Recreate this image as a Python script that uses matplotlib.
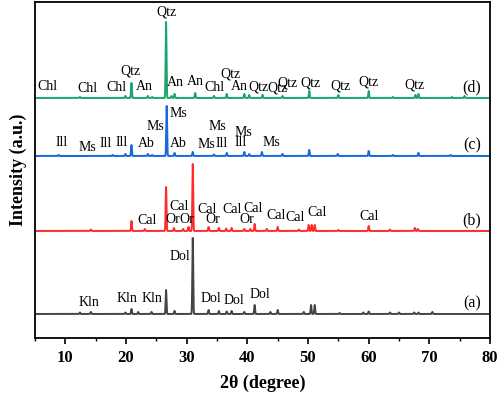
import numpy as np
import matplotlib.pyplot as plt

plt.rcParams['font.family'] = ['Liberation Serif', 'DejaVu Serif']

# baselines of the four offset patterns (arbitrary intensity units)
base_a, base_b, base_c, base_d = 24, 107, 182, 240

# peak positions (2theta) and heights for each pattern
pk_a = [12.4, 14.2, 19.9, 20.9, 22.0, 24.2, 26.6, 28.0, 31.0, 33.6, 35.3, 36.6, 37.4, 39.5, 41.2,
        43.8, 45.0, 49.3, 50.5, 51.1, 55.2, 59.1, 60.0, 63.5, 65.0, 67.5, 68.2, 70.5]
h_a = [1.5, 2, 1.5, 5, 2, 2, 24, 3, 76, 4, 3, 2.5, 3, 2, 9,
       2, 4, 2, 9, 9, 1, 1.5, 2.5, 1.5, 1.5, 1.5, 1.5, 2]

pk_b = [14.2, 20.9, 23.1, 26.6, 27.9, 29.4, 30.3, 31.0, 33.6, 35.3, 36.5, 37.4, 39.5, 40.5, 41.2,
        43.2, 45.0, 48.5, 50.1, 50.6, 51.1, 55.0, 60.0, 63.5, 67.6, 68.1]
h_b = [1.5, 10, 2, 44, 3, 2, 4, 67, 4, 3, 2.5, 3, 2, 2, 7,
       2, 4, 1.5, 6, 6, 6, 1, 5, 1.5, 3, 2]

pk_c = [8.9, 17.8, 19.9, 20.9, 23.6, 24.3, 26.7, 28.0, 31.0, 34.5, 36.6, 39.5, 40.3, 42.4,
        45.8, 50.2, 54.9, 60.0, 64.0, 68.2, 73.5]
h_c = [1, 1, 2, 11, 2, 1, 50, 3, 4, 1.5, 3, 4, 2, 4,
       2, 6, 2, 5, 1, 3, 1]

pk_d = [12.4, 19.9, 20.9, 23.6, 24.3, 26.6, 27.5, 28.0, 31.4, 34.5, 36.6, 39.5, 40.3, 42.5,
        45.8, 50.2, 55.0, 60.0, 64.0, 67.7, 68.2, 73.7, 75.8]
h_d = [1, 2, 15, 2, 1, 76, 2, 4, 5, 2, 4, 4, 3, 3,
       2, 7, 3, 7, 1, 3, 4, 1, 2]

# phase labels: (2theta, height, text)
lab_d = [(7.1, 251, 'Chl'), (13.6, 249, 'Chl'), (18.5, 250, 'Chl'), (20.8, 267, 'Qtz'),
         (23.0, 251, 'An'), (26.6, 326, 'Qtz'), (28.2, 255, 'An'), (31.4, 256, 'An'),
         (34.5, 250, 'Chl'), (37.3, 264, 'Qtz'), (38.7, 251, 'An'), (41.8, 251, 'Qtz'),
         (45.0, 250, 'Qtz'), (46.6, 255, 'Qtz'), (50.4, 255, 'Qtz'), (55.4, 252, 'Qtz'),
         (59.9, 256, 'Qtz'), (67.6, 253, 'Qtz')]
lab_c = [(9.4, 195, 'Ill'), (13.7, 190, 'Ms'), (16.7, 194, 'Ill'), (19.2, 195, 'Ill'),
         (23.4, 194, 'Ab'), (24.8, 211, 'Ms'), (28.7, 224, 'Ms'), (28.7, 194, 'Ab'),
         (33.2, 193, 'Ms'), (35.8, 194, 'Ill'), (35.0, 211, 'Ms'), (39.3, 205, 'Ms'),
         (38.9, 195, 'Ill'), (43.9, 195, 'Ms')]
lab_b = [(23.4, 117, 'Cal'), (28.7, 131, 'Cal'), (27.7, 118, 'Or'), (30.0, 118, 'Or'),
         (33.3, 128, 'Cal'), (34.3, 118, 'Or'), (37.4, 128, 'Cal'), (40.9, 129, 'Cal'),
         (39.9, 118, 'Or'), (44.7, 122, 'Cal'), (47.8, 120, 'Cal'), (51.5, 125, 'Cal'),
         (60.0, 121, 'Cal')]
lab_a = [(13.9, 35, 'Kln'), (20.1, 39, 'Kln'), (24.3, 39, 'Kln'), (28.9, 81, 'Dol'),
         (34.0, 39, 'Dol'), (37.8, 37, 'Dol'), (42.0, 43, 'Dol')]

tags = ['(a)', '(b)', '(c)', '(d)']

x = np.arange(5, 80.001, 0.01)


def pattern(base, pos, hts):
    y = np.full_like(x, float(base))
    for p, h in zip(pos, hts):
        y += h * np.exp(-0.5 * ((x - p) / 0.07) ** 2)
    return y


fig = plt.figure(figsize=(4.98, 3.93), dpi=100)
ax = fig.add_axes([0.0703, 0.140, 0.9137, 0.855])

series = [(base_a, pk_a, h_a, '#444444', lab_a),
          (base_b, pk_b, h_b, '#ff2b2b', lab_b),
          (base_c, pk_c, h_c, '#1668dc', lab_c),
          (base_d, pk_d, h_d, '#1aa56b', lab_d)]

for (base, pos, hts, col, labs), tag in zip(series, tags):
    ax.plot(x, pattern(base, pos, hts), color=col, lw=1.4)
    for tx, ty, s in labs:
        ax.text(tx, ty, s, ha='center', va='center', fontsize=10)
    ax.text(77.0, base + 11, tag, ha='center', va='center', fontsize=11.5)

ax.set_xlim(5, 80)
ax.set_ylim(0, 336)
ax.set_xticks(np.arange(10, 81, 10))
ax.set_xticks(np.arange(5, 81, 5), minor=True)
ax.set_yticks([])
ax.tick_params(axis='x', which='major', direction='out', length=4, width=1.2, pad=5)
ax.tick_params(axis='x', which='minor', direction='out', length=2.5, width=1.0)
for lbl in ax.get_xticklabels():
    lbl.set_fontweight('bold')
    lbl.set_fontsize(12)
for sp in ax.spines.values():
    sp.set_linewidth(1.3)

ax.set_xlabel('2θ (degree)', fontsize=13, fontweight='bold', labelpad=6)
ax.set_ylabel('Intensity (a.u.)', fontsize=13, fontweight='bold', labelpad=6)

fig.savefig('out.png', dpi=100)
